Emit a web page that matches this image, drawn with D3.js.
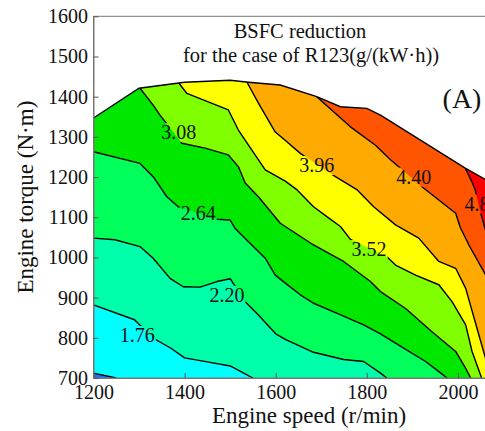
<html>
<head>
<script src="https://cdnjs.cloudflare.com/ajax/libs/d3/7.8.5/d3.min.js"></script>
<style>
body { margin: 0; padding: 0; background: #fff; }
svg text { font-family: "Liberation Serif", serif; fill: #111; }
</style>
</head>
<body>
<div id="chart"></div>
<script>
// axis ticks
var speedTicks = [1200, 1400, 1600, 1800, 2000];
var torqueTicks = [700, 800, 900, 1000, 1100, 1200, 1300, 1400, 1500, 1600];

// contour levels, g/(kW*h)
var levels = [1.32, 1.76, 2.20, 2.64, 3.08, 3.52, 3.96, 4.40, 4.84];

// full load curve [speed, torque]
var maxTorque = [[1200,1347],[1300,1421],[1400,1436],[1500,1441],[1540,1436],[1610,1429],[1690,1400],[1742,1375],[1800,1371],[1830,1354],[2016,1222],[2062,1193],[2100,1165]];

// contour lines [speed, torque]
var c132 = [[1200,712],[1250,700]];
var c176 = [[1200,882],[1290,845],[1330,800],[1370,774],[1400,750],[1450,740],[1500,730],[1550,700]];
var c220 = [[1200,1048],[1247,1044],[1302,1027],[1331,998],[1368,948],[1397,927],[1434,926],[1471,940],[1500,947],[1533,890],[1562,857],[1600,810],[1621,796],[1683,764],[1749,746],[1793,741],[1830,712],[1844,700]];
var c264 = [[1200,1263],[1302,1234],[1331,1201],[1361,1151],[1386,1126],[1471,1095],[1500,1093],[1511,1072],[1533,1047],[1577,998],[1599,956],[1621,936],[1654,907],[1683,886],[1735,861],[1793,832],[1830,810],[1870,782],[1929,741],[1958,716],[1976,700]];
var c308 = [[1302,1421],[1331,1379],[1346,1354],[1394,1284],[1445,1272],[1496,1255],[1518,1226],[1533,1185],[1562,1151],[1610,1085],[1683,1031],[1749,990],[1808,940],[1830,915],[1885,873],[1943,815],[1995,766],[2017,724],[2028,700]];
var c352 = [[1386,1436],[1405,1408],[1496,1367],[1518,1317],[1577,1218],[1621,1190],[1647,1168],[1683,1126],[1713,1101],[1742,1077],[1764,1045],[1844,1002],[1863,981],[1907,956],[1958,932],[1987,890],[2017,832],[2031,766],[2052,700]];
var c396 = [[1537,1436],[1562,1384],[1599,1312],[1620,1292],[1654,1259],[1731,1201],[1779,1168],[1815,1126],[1863,1081],[1914,1048],[1958,990],[1995,973],[2017,923],[2046,807],[2062,743],[2075,700]];
var c440 = [[1690,1400],[1764,1325],[1819,1279],[1852,1243],[1921,1176],[1958,1143],[1995,1110],[2005,1075],[2024,1031],[2061,956],[2100,880]];
var c484 = [[2016,1222],[2030,1190],[2038,1168],[2050,1110],[2065,1050],[2100,960]];
var contourLines = [c132, c176, c220, c264, c308, c352, c396, c440, c484];

// where the level labels sit [speed, torque]; null = no label
var labelAt = [null, [1296,807], [1493,907], [1430,1111], [1387,1312], [1805,1021], [1690,1230], [1903,1201], [2053,1134]];

var bandColors = ["#1479ee", "#00ffff", "#00ffaa", "#00ff5a", "#00e800", "#80ff00", "#ffff00", "#ffaa00", "#ff5500", "#ff0000"];

var W = 485, H = 431;
var serif = "'Liberation Serif', serif";

var x = d3.scaleLinear().domain([1200, 2100]).range([93.5, 503.5]);
var y = d3.scaleLinear().domain([700, 1600]).range([378, 16.3]);

var line = d3.line().x(function(d) { return x(d[0]); }).y(function(d) { return y(d[1]); });

var svg = d3.select("#chart").append("svg")
	.attr("width", W)
	.attr("height", H)
	.attr("font-family", serif);

svg.append("rect").attr("width", W).attr("height", H).attr("fill", "#fff");

var defs = svg.append("defs");

var region = [[1200, 700]].concat(maxTorque).concat([[2100, 700]]);
defs.append("clipPath").attr("id", "map")
	.append("path").attr("d", line(region) + "Z");

// polygon covering the high-value side of a contour line
function highSide(pts) {
	var p = pts.slice();
	var s0 = pts[0], sn = pts[pts.length - 1];
	if (sn[1] <= 700) { p.push([sn[0], 500]); p.push([3000, 500]); }
	else { p.push([3000, sn[1]]); }
	p.push([3000, 2000]);
	if (s0[0] <= 1200) { p.push([1000, 2000]); p.push([1000, s0[1]]); }
	else { p.push([s0[0], 2000]); }
	return p;
}

var bands = svg.append("g").attr("clip-path", "url(#map)");
bands.append("path")
	.attr("d", line(region) + "Z")
	.attr("fill", bandColors[0]);
bands.selectAll("path.band")
	.data(contourLines)
	.enter().append("path")
	.attr("class", "band")
	.attr("d", function(d) { return line(highSide(d)) + "Z"; })
	.attr("fill", function(d, i) { return bandColors[i + 1]; });

// level labels
var labelData = levels.map(function(v, i) { return { v: v, at: labelAt[i] }; })
	.filter(function(d) { return d.at; });

var labels = svg.append("g").attr("clip-path", "url(#map)");
labels.selectAll("text")
	.data(labelData)
	.enter().append("text")
	.attr("x", function(d) { return x(d.at[0]); })
	.attr("y", function(d) { return y(d.at[1]); })
	.attr("text-anchor", "middle")
	.attr("dominant-baseline", "central")
	.attr("font-size", 20)
	.attr("fill", "#222")
	.text(function(d) { return d.v.toFixed(2); });

// break the contour lines under the labels
var mask = defs.append("mask").attr("id", "gap")
	.attr("maskUnits", "userSpaceOnUse")
	.attr("x", 0).attr("y", 0).attr("width", W).attr("height", H);
mask.append("rect").attr("width", W).attr("height", H).attr("fill", "#fff");
labels.selectAll("text").each(function() {
	var b = this.getBBox();
	mask.append("rect")
		.attr("x", b.x - 1).attr("y", b.y + 2)
		.attr("width", b.width + 2).attr("height", b.height - 3)
		.attr("fill", "#000");
});

var lines = svg.append("g").attr("clip-path", "url(#map)")
	.append("g").attr("mask", "url(#gap)");
lines.selectAll("path")
	.data(contourLines)
	.enter().append("path")
	.attr("d", line)
	.attr("fill", "none")
	.attr("stroke", "#000")
	.attr("stroke-width", 1.4)
	.attr("stroke-linejoin", "round");

svg.append("path")
	.attr("d", line(maxTorque))
	.attr("fill", "none")
	.attr("stroke", "#000")
	.attr("stroke-width", 1.4);

// frame and axes
svg.append("rect")
	.attr("x", x(1200)).attr("y", y(1600))
	.attr("width", x(2100) - x(1200)).attr("height", y(700) - y(1600))
	.attr("fill", "none")
	.attr("stroke", "#777");

var xAxis = svg.append("g")
	.attr("transform", "translate(0," + y(700) + ")")
	.call(d3.axisBottom(x).tickValues(speedTicks).tickSize(-5).tickSizeOuter(0).tickPadding(7).tickFormat(d3.format("d")));
var yAxis = svg.append("g")
	.attr("transform", "translate(" + x(1200) + ",0)")
	.call(d3.axisLeft(y).tickValues(torqueTicks).tickSize(-5).tickSizeOuter(0).tickPadding(5.5).tickFormat(d3.format("d")));

[xAxis, yAxis].forEach(function(a) {
	a.attr("font-size", 20).attr("font-family", serif);
	a.select(".domain").attr("stroke", "#777");
	a.selectAll(".tick line").attr("stroke", "#555");
	a.selectAll(".tick text").attr("fill", "#111");
});

svg.append("text")
	.attr("x", 309).attr("y", 423)
	.attr("text-anchor", "middle")
	.attr("font-size", 23)
	.text("Engine speed (r/min)");

svg.append("text")
	.attr("transform", "translate(33," + ((y(700) + y(1600)) / 2) + ") rotate(-90)")
	.attr("text-anchor", "middle")
	.attr("font-size", 23)
	.text("Engine torque (N\u00b7m)");

svg.append("text")
	.attr("x", 300).attr("y", 38)
	.attr("text-anchor", "middle")
	.attr("font-size", 20.5)
	.text("BSFC reduction");
svg.append("text")
	.attr("x", 311).attr("y", 62)
	.attr("text-anchor", "middle")
	.attr("font-size", 20.5)
	.text("for the case of R123(g/(kW\u00b7h))");

svg.append("text")
	.attr("x", 462).attr("y", 108)
	.attr("text-anchor", "middle")
	.attr("font-size", 28)
	.text("(A)");
</script>
</body>
</html>
